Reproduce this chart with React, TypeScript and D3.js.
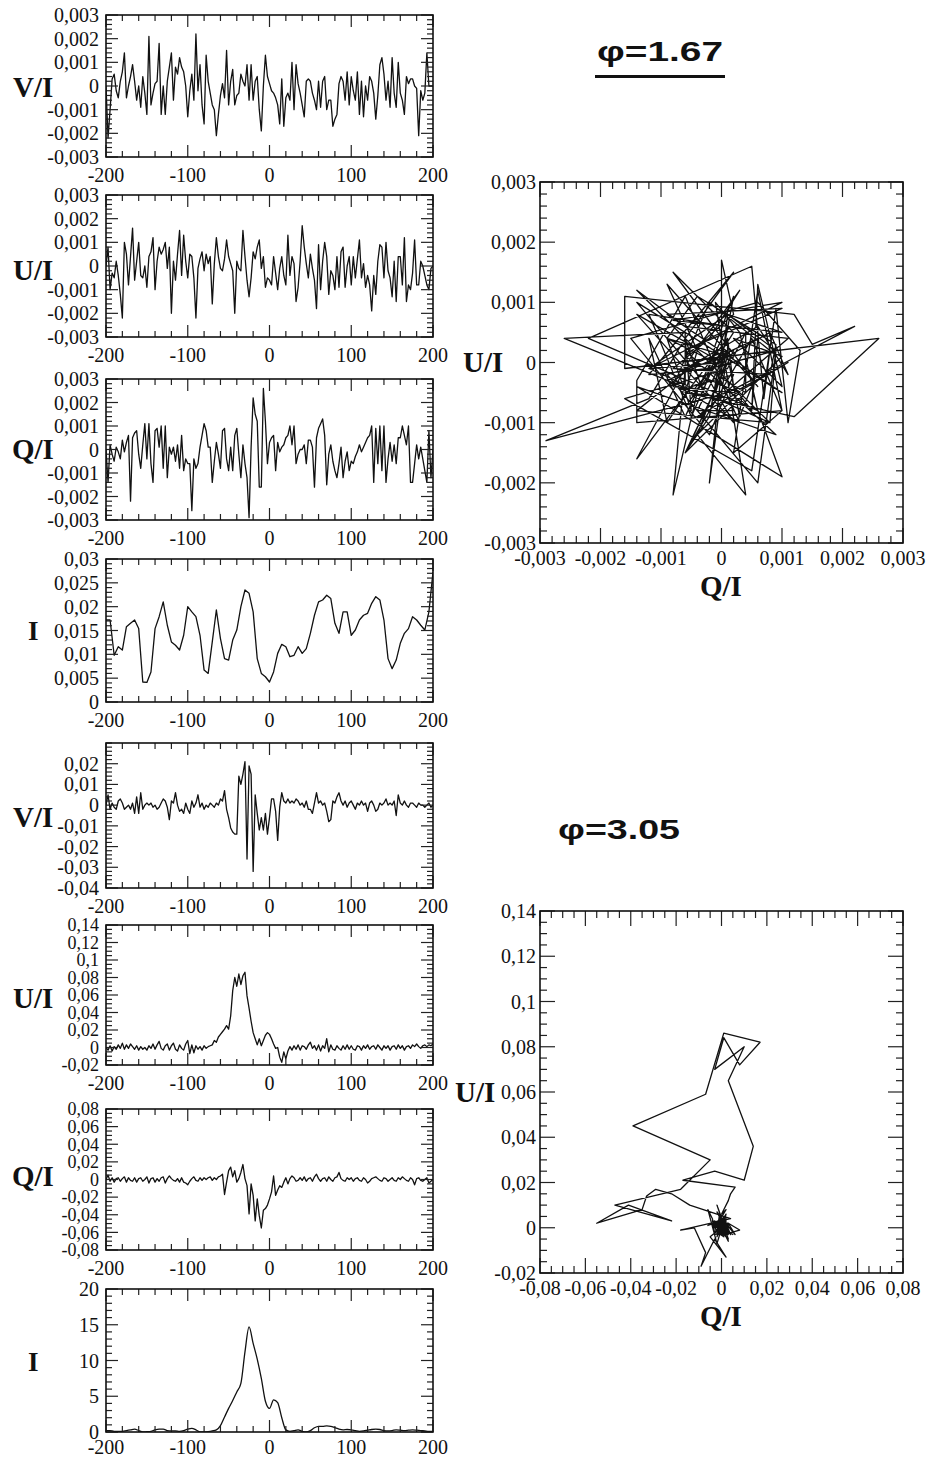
import * as d3 from "d3";

const W = 927;
const H = 1458;

// abscissa of the profiles (same grid for every noisy profile), and coarse grid for I
const xFine = d3.range(-200, 200.001, 2.5);
const xCoarse = d3.range(-200, 200.001, 5);

// phi = 1.67, Stokes ratios in units of 1e-4
const v167 = [
  0, -22, -10, 3, 5, -2, -5, 2, 6, 14, -5, 0, 4, 9, 2, -6, 0, -9, 4, -3,
  -12, 21, -8, -3, 1, 2, 18, -12, 0, -12, 2, 8, 14, -6, 8, 5, 12, 8, 6, 0,
  -13, -2, 5, -6, 22, -2, 9, -8, -16, 13, 2, -3, -8, -10, -21, -12, -4, 1, -5, 15,
  -8, 2, 7, -8, -4, -3, 5, 2, 0, 9, -6, 9, -6, 2, 4, -10, -19, 0, 13, 4,
  1, -2, -3, -5, -8, -16, 3, -17, -5, -3, -6, 10, -10, 9, 1, -3, -8, -13, 2, 3,
  2, -3, -6, -10, 2, -9, 2, 4, -10, -6, -6, -17, -14, -12, 1, 4, 2, -6, 6, -8,
  4, -2, -6, 6, -12, 2, -13, 0, -6, 4, 2, -3, -14, -4, 9, 12, 5, -6, 2, -9,
  12, -3, -9, 10, -3, -6, -12, 4, 1, 3, 3, 0, -1, -21, -2, -6, -3, 14, 0, 0,
  0,
];
const u167 = [
  0, 8, -10, -3, -5, 2, -4, -12, -22, 10, 5, -8, 4, 16, -6, 2, 10, -4, -5, 0,
  -9, 4, 6, 12, -10, 2, 8, 5, 7, 10, -1, 8, -20, 2, -6, 5, 15, -4, 13, 2,
  -5, 5, 4, -5, -22, -1, 3, 6, -2, 5, 1, 4, -16, 1, 12, 4, -1, -2, 3, 11,
  4, 1, -2, -20, 2, -1, -2, 15, 4, -6, -13, -5, 6, 3, 8, 11, -1, 4, -9, -5,
  -6, -8, 4, -3, -10, -1, 4, -4, -8, 13, -4, 4, 1, -15, -9, 2, 17, 8, 1, -5,
  5, -1, -6, -18, 9, -10, 2, 10, 4, -12, -2, -4, -10, 4, -9, 6, 8, -9, 0, 4,
  -8, 4, -5, 3, 11, -5, 1, -9, -4, -8, -19, -4, -12, 2, 9, 8, -5, 10, -2, -5,
  -13, 2, -15, 4, 4, -8, 12, -15, -8, -10, -3, 11, -8, -8, 2, 0, -4, -8, -10, -1,
  0,
];
const q167 = [
  0, -14, 2, -2, -5, 1, -1, -4, 4, -1, 3, 6, -22, 5, 7, 8, -2, -8, 2, 11,
  -4, 11, -6, -14, 8, 9, 1, 10, -8, 10, -12, 1, -2, 1, -5, 2, -8, 6, -9, -4,
  -6, -6, -26, -4, -8, -6, 1, 6, 11, 8, 1, 1, -14, -5, 3, -2, -8, 8, 9, -4,
  -9, 1, -9, 6, 9, -2, -12, 2, -6, -12, -29, 1, 22, 15, 12, -16, -16, 26, 12, -6,
  3, 5, 6, -9, 3, -1, 1, 2, 5, 6, 10, 2, 10, -6, -2, 0, 0, 2, -6, 4,
  4, 1, -16, 5, 9, 11, 13, 6, -15, -2, 2, -5, -9, -12, -6, 1, -12, -5, -1, -9,
  -5, -6, -3, -1, 2, -1, 1, 3, 5, 6, 10, -14, 9, -6, 10, -9, 10, -14, -4, 3,
  -5, 2, -6, 5, 5, 10, 6, 2, 10, -14, -14, -6, 2, -4, 1, -4, -9, -14, 8, -12,
  0,
];
const i167 = [
  172, 172, 98, 116, 109, 158, 165, 172, 154, 42, 41, 63, 154, 179, 210, 161, 126, 119, 109, 140,
  200, 189, 179, 140, 67, 60, 126, 193, 133, 91, 88, 130, 151, 200, 235, 228, 189, 91, 60, 53,
  42, 63, 102, 121, 116, 95, 98, 116, 102, 112, 144, 182, 210, 214, 224, 217, 165, 144, 189, 189,
  140, 151, 172, 182, 186, 207, 221, 214, 172, 91, 70, 88, 123, 144, 154, 179, 172, 161, 151, 189,
  273,
];

// phi = 3.05, Stokes ratios in units of 1e-3, intensity as read
const v305 = [
  0, 5, -2, 1, -1, -2, 2, 3, 1, -2, -1, 0, -2, 1, -4, 4, -4, 6, -2, 0,
  1, 0, 1, -1, 0, -2, -1, 1, 3, 2, -1, -7, 2, 1, 6, 0, -3, -2, -4, 1,
  -2, -4, 2, -1, 1, 5, -1, 1, -2, 0, -1, 1, 0, -1, 1, 0, 3, 2, 7, -2,
  -6, -11, -13, -14, -14, 14, 10, 15, 21, -26, 19, 15, -32, 5, -4, -12, -6, -12, -4, -14,
  -6, 3, 3, -3, -17, -1, 6, 2, 1, 3, 1, 2, 1, 3, 2, 0, 1, -1, 2, -2,
  -2, -4, 1, 6, 1, 2, 0, 1, -3, -8, -7, 2, 1, 4, 6, 2, 0, 2, -1, 1,
  2, 0, -2, 1, 0, 2, 0, 1, -3, 1, 2, 0, -3, -2, 1, 0, 1, 3, 0, 1,
  0, 2, -5, 5, 1, 0, 2, 0, -1, 1, 1, 0, -1, 1, 0, 0, -1, 0, 1, -1,
  0,
];
const u305 = [
  0, -3, 2, -4, 1, -2, 3, -1, 5, -2, 3, -1, 4, 1, -2, 2, -3, 1, -2, 0,
  -3, 2, -1, 4, -2, 3, 7, -1, -3, 2, 4, -3, 2, 5, -2, -4, 3, -1, -3, 4,
  8, -7, 3, -6, 2, -2, 1, -3, 2, -1, 1, 2, 3, 8, 6, 12, 15, 18, 21, 25,
  21, 36, 65, 80, 70, 84, 72, 82, 86, 59, 45, 30, 17, 10, 3, 10, 2, 8, 14, 17,
  15, 10, 4, -1, 0, -11, -17, -5, -13, -4, 1, -3, 2, -2, 3, -3, 2, 1, -2, 3,
  6, -1, 2, -3, 3, -4, 2, -1, 10, -5, 3, -2, -3, 2, -1, -3, 2, -2, 3, -2,
  2, -2, -3, 2, 1, -3, 2, -1, 3, -2, 1, 2, -2, 3, 0, -3, 2, -1, 2, -3,
  1, 2, -2, 3, -1, 2, -3, 1, 2, -1, 3, 1, 4, 1, -1, 2, 3, 1, 3, 2,
  4,
];
const q305 = [
  0, 5, -2, 2, -3, 1, 2, -2, 1, 3, -3, 2, -1, -2, 2, -3, 1, 2, -2, 0,
  3, -4, 1, 2, -3, 1, -2, 2, 3, -4, 1, 4, 1, -1, -2, 1, -3, 2, -3, -4,
  -6, -2, 1, 3, -1, -2, 2, -1, 2, 0, 2, 3, -1, 2, 0, 3, 4, 6, -17, -3,
  10, 14, 3, 10, -3, 1, 8, 17, 1, -7, -39, -5, -18, -47, -22, -41, -55, -35, -33, -29,
  -22, -14, 4, -18, -12, -7, -9, -3, 2, -5, 1, 4, 2, -2, -1, 2, -1, 3, -2, 1,
  2, -2, 3, 6, 1, -2, 1, 2, -2, 3, 0, -2, 2, 3, 8, 1, -1, -2, 2, 0,
  2, -2, 1, 2, -1, -2, 2, 0, -4, -2, 1, 2, 3, 1, -1, -2, 2, 1, -2, 0,
  2, -1, -2, 2, 0, 3, 1, -1, -2, 2, 0, -6, 1, 2, -1, -2, 0, 2, -4, -2,
  0,
];
const i305 = [
  0.2, 0.2, 0.1, 0.1, 0.1, 0.2, 0.3, 0.4, 0.2, 0.0, 0.05, 0.1, 0.3, 0.4, 0.4, 0.2, 0.15, 0.15, 0.1, 0.2,
  0.4, 0.5, 0.3, 0.0, 0.0, 0.05, 0.15, 0.3, 0.9, 2.1, 3.3, 4.4, 5.6, 6.8, 11.2, 14.7, 12.4, 10.2, 7.5, 4.3,
  3.3, 4.5, 4.1, 2.0, 0.3, 0.1, 0.2, 0.3, 0.1, 0.0, 0.2, 0.6, 0.8, 0.8, 0.85, 0.8, 0.6, 0.4, 0.3, 0.35,
  0.3, 0.2, 0.1, 0.15, 0.25, 0.35, 0.4, 0.35, 0.2, 0.15, 0.2, 0.3, 0.25, 0.2, 0.25, 0.3, 0.25, 0.2, 0.15, 0.1,
  0.1,
];

const e4 = (a: number[]) => a.map((v) => v * 1e-4);
const e3 = (a: number[]) => a.map((v) => v * 1e-3);

// major ticks
const xTicksProfile = [-200, -100, 0, 100, 200];
const yTicks3 = [-0.003, -0.002, -0.001, 0, 0.001, 0.002, 0.003];
const yTicksI167 = [0, 0.005, 0.01, 0.015, 0.02, 0.025, 0.03];
const yTicksV305 = [-0.04, -0.03, -0.02, -0.01, 0, 0.01, 0.02];
const yTicksU305 = [-0.02, 0, 0.02, 0.04, 0.06, 0.08, 0.1, 0.12, 0.14];
const yTicksQ305 = [-0.08, -0.06, -0.04, -0.02, 0, 0.02, 0.04, 0.06, 0.08];
const yTicksI305 = [0, 5, 10, 15, 20];

const SERIF = "'Liberation Serif', 'Times New Roman', serif";
const SANS = "'Liberation Sans', Arial, sans-serif";

const fmt = (v: number) => String(+v.toFixed(6)).replace(".", ",");

const minorTicks = (domain: number[], step: number, majors: number[]) =>
  d3
    .range(domain[0], domain[1] + step / 2, step)
    .filter((v) => !majors.some((m) => Math.abs(m - v) < step / 10));

type PanelProps = {
  id: string;
  x: number;
  y: number;
  w: number;
  h: number;
  xDomain: [number, number];
  yDomain: [number, number];
  xMajor: number[];
  xMinor: number;
  yMajor: number[];
  yMinor: number;
  majorLen: number;
  minorLen: number;
  xs: number[];
  ys: number[];
  label: string;
  labelX: number;
  labelY: number;
  labelSize: number;
  yGap: number;
  xLabelDy: number;
  yFont?: number;
  smooth?: boolean;
};

const Panel = (p: PanelProps) => {
  const xScale = d3.scaleLinear().domain(p.xDomain).range([p.x, p.x + p.w]);
  const yScale = d3.scaleLinear().domain(p.yDomain).range([p.y + p.h, p.y]);

  const path = d3
    .line<number>()
    .x((_, i) => xScale(p.xs[i]))
    .y((d) => yScale(d))
    .curve(p.smooth ? d3.curveMonotoneX : d3.curveLinear)(p.ys);

  const left = p.x;
  const right = p.x + p.w;
  const top = p.y;
  const bottom = p.y + p.h;

  const xMin = minorTicks(p.xDomain, p.xMinor, p.xMajor);
  const yMin = minorTicks(p.yDomain, p.yMinor, p.yMajor);

  const ticks: JSX.Element[] = [];
  const addX = (v: number, len: number, key: string) => {
    const sx = xScale(v);
    ticks.push(<line key={key + "b"} x1={sx} x2={sx} y1={bottom} y2={bottom - len} />);
    ticks.push(<line key={key + "t"} x1={sx} x2={sx} y1={top} y2={top + len} />);
  };
  const addY = (v: number, len: number, key: string) => {
    const sy = yScale(v);
    ticks.push(<line key={key + "l"} x1={left} x2={left + len} y1={sy} y2={sy} />);
    ticks.push(<line key={key + "r"} x1={right} x2={right - len} y1={sy} y2={sy} />);
  };
  p.xMajor.forEach((v, i) => addX(v, p.majorLen, "xM" + i));
  xMin.forEach((v, i) => addX(v, p.minorLen, "xm" + i));
  p.yMajor.forEach((v, i) => addY(v, p.majorLen, "yM" + i));
  yMin.forEach((v, i) => addY(v, p.minorLen, "ym" + i));

  return (
    <g>
      <defs>
        <clipPath id={p.id}>
          <rect x={left} y={top} width={p.w} height={p.h} />
        </clipPath>
      </defs>
      <path
        d={path ?? ""}
        fill="none"
        stroke="#111"
        strokeWidth={1.3}
        strokeLinejoin="round"
        clipPath={`url(#${p.id})`}
      />
      <g stroke="#222" strokeWidth={1.2}>
        {ticks}
      </g>
      <rect x={left} y={top} width={p.w} height={p.h} fill="none" stroke="#111" strokeWidth={1.6} />
      <g fontFamily={SERIF} fontSize={20} fill="#111">
        {p.xMajor.map((v) => (
          <text key={"xl" + v} x={xScale(v)} y={bottom + p.xLabelDy} textAnchor="middle">
            {fmt(v)}
          </text>
        ))}
        {p.yMajor.map((v) => (
          <text
            key={"yl" + v}
            x={left - p.yGap}
            y={yScale(v)}
            dy="0.35em"
            textAnchor="end"
            fontSize={p.yFont ?? 20}
          >
            {fmt(v)}
          </text>
        ))}
      </g>
      <text
        x={p.labelX}
        y={p.labelY}
        fontFamily={SERIF}
        fontWeight="bold"
        fontSize={p.labelSize}
        fill="#111"
      >
        {p.label}
      </text>
    </g>
  );
};

const small = {
  x: 106,
  w: 327,
  xDomain: [-200, 200] as [number, number],
  xMajor: xTicksProfile,
  xMinor: 20,
  majorLen: 12,
  minorLen: 6,
  yGap: 7,
  xLabelDy: 25,
};

export default function App() {
  return (
    <svg
      width={W}
      height={H}
      style={{ position: "absolute", left: 0, top: 0, background: "#fff" }}
    >
      <rect width={W} height={H} fill="#fff" />

      {/* phi = 1.67 profiles */}
      <Panel {...small} id="c1" y={15} h={142} yDomain={[-0.003, 0.003]} yMajor={yTicks3} yMinor={0.0002}
        xs={xFine} ys={e4(v167)} label="V/I" labelX={13} labelY={97} labelSize={29} />
      <Panel {...small} id="c2" y={195} h={142} yDomain={[-0.003, 0.003]} yMajor={yTicks3} yMinor={0.0002}
        xs={xFine} ys={e4(u167)} label="U/I" labelX={13} labelY={280} labelSize={29} />
      <Panel {...small} id="c3" y={379} h={141} yDomain={[-0.003, 0.003]} yMajor={yTicks3} yMinor={0.0002}
        xs={xFine} ys={e4(q167)} label="Q/I" labelX={12} labelY={459} labelSize={29} />
      <Panel {...small} id="c4" y={559} h={143} yDomain={[0, 0.03]} yMajor={yTicksI167} yMinor={0.001}
        xs={xCoarse} ys={e4(i167)} label="I" labelX={28} labelY={640} labelSize={27} />

      {/* phi = 3.05 profiles */}
      <Panel {...small} id="c5" y={743} h={145} yDomain={[-0.04, 0.03]} yMajor={yTicksV305} yMinor={0.002}
        xs={xFine} ys={e3(v305)} label="V/I" labelX={13} labelY={827} labelSize={29} />
      <Panel {...small} id="c6" y={925} h={140} yDomain={[-0.02, 0.14]} yMajor={yTicksU305} yMinor={0.005}
        xs={xFine} ys={e3(u305)} label="U/I" labelX={13} labelY={1008} labelSize={29} yFont={18} />
      <Panel {...small} id="c7" y={1109} h={141} yDomain={[-0.08, 0.08]} yMajor={yTicksQ305} yMinor={0.005}
        xs={xFine} ys={e3(q305)} label="Q/I" labelX={12} labelY={1186} labelSize={29} yFont={18} />
      <Panel {...small} id="c8" y={1289} h={143} yDomain={[0, 20]} yMajor={yTicksI305} yMinor={1}
        xs={xCoarse} ys={i305} label="I" labelX={28} labelY={1371} labelSize={27} smooth xLabelDy={22} />

      {/* Q/I vs U/I diagrams */}
      <Panel id="s1" x={540} y={182} w={363} h={361} xDomain={[-0.003, 0.003]} yDomain={[-0.003, 0.003]}
        xMajor={yTicks3} xMinor={0.0002} yMajor={yTicks3} yMinor={0.0002} majorLen={15} minorLen={7}
        xs={e4(q167)} ys={e4(u167)} label="U/I" labelX={463} labelY={372} labelSize={29} yGap={4} xLabelDy={22} />
      <text x={700} y={596} fontFamily={SERIF} fontWeight="bold" fontSize={29} fill="#111">Q/I</text>

      <Panel id="s2" x={540} y={911} w={363} h={362} xDomain={[-0.08, 0.08]} yDomain={[-0.02, 0.14]}
        xMajor={yTicksQ305} xMinor={0.005} yMajor={yTicksU305} yMinor={0.005} majorLen={15} minorLen={7}
        xs={e3(q305)} ys={e3(u305)} label="U/I" labelX={455} labelY={1102} labelSize={29} yGap={4} xLabelDy={22} />
      <text x={700} y={1326} fontFamily={SERIF} fontWeight="bold" fontSize={29} fill="#111">Q/I</text>

      {/* titles */}
      <text x={597} y={61} fontFamily={SANS} fontWeight="bold" fontSize={27} fill="#111"
        textLength={126} lengthAdjust="spacingAndGlyphs">
        φ=1.67
      </text>
      <rect x={595} y={75} width={130} height={3} fill="#111" />
      <text x={558} y={839} fontFamily={SANS} fontWeight="bold" fontSize={27} fill="#111"
        textLength={122} lengthAdjust="spacingAndGlyphs">
        φ=3.05
      </text>
    </svg>
  );
}
